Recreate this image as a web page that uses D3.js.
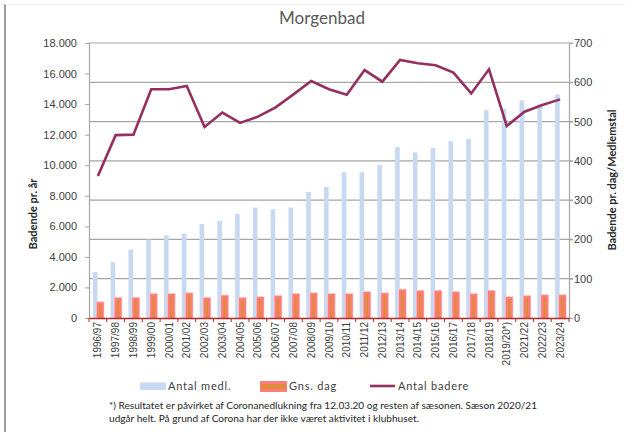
<!DOCTYPE html>
<html>
<head>
<meta charset="utf-8">
<script src="https://cdn.jsdelivr.net/npm/d3@7"></script>
<style>
  body { margin: 0; background: #fff; }
  svg { display: block; font-family: Lato, "Open Sans", sans-serif; }
</style>
</head>
<body>
<div id="chart"></div>
<script>
// saesoner
var seasons = ["1996/97","1997/98","1998/99","1999/00","2000/01","2001/02","2002/03","2003/04",
  "2004/05","2005/06","2006/07","2007/08","2008/09","2009/10","2010/11","2011/12","2012/13",
  "2013/14","2014/15","2015/16","2016/17","2017/18","2018/19","2019/20*)","2021/22","2022/23","2023/24"];

// Antal medl. (hoejre akse)
var members = [117,142,174,200,210,215,239,247,265,281,277,281,321,334,371,371,389,435,422,433,450,456,529,533,554,544,569];

// Gns. dag (hoejre akse)
var perDay = [41,52,52,62,62,64,52,58,52,54,57,62,64,62,62,67,64,73,70,70,67,62,70,54,57,59,59];

// Antal badere (venstre akse)
var bathers = [9300,11970,12000,14970,14970,15180,12500,13450,12770,13180,13790,14640,15510,14970,
  14620,16230,15470,16890,16670,16540,16060,14700,16280,12570,13500,13940,14310];

var leftTicks = [0,2000,4000,6000,8000,10000,12000,14000,16000,18000];
var rightTicks = [0,100,200,300,400,500,600,700];

var W = 625, H = 432;
var pLeft = 89, pRight = 569, pTop = 43, pBottom = 318;

var svg = d3.select("#chart").append("svg").attr("width", W).attr("height", H);

// ramme til venstre
svg.append("line").attr("x1", 5).attr("x2", 5).attr("y1", 4).attr("y2", H)
  .attr("stroke", "#7f7f7f").attr("stroke-width", 1.5);
svg.append("line").attr("x1", 5).attr("x2", W).attr("y1", 4.5).attr("y2", 4.5)
  .attr("stroke", "#f0f0f0").attr("stroke-width", 1);

var x = d3.scaleBand().domain(seasons).range([pLeft, pRight]).padding(0);
var yL = d3.scaleLinear().domain([0, 18000]).range([pBottom, pTop]);
var yR = d3.scaleLinear().domain([0, 700]).range([pBottom, pTop]);

var fmt = function(d) { return d3.format(",")(d).replace(/,/g, "."); };

// gitterlinjer
svg.append("g").selectAll("line").data(rightTicks.filter(function(d){ return d > 0; }))
  .enter().append("line")
  .attr("x1", pLeft).attr("x2", pRight + 4)
  .attr("y1", function(d){ return yR(d); }).attr("y2", function(d){ return yR(d); })
  .attr("stroke", "#a6a6a6").attr("stroke-width", 1.2);

// venstre akse
var gL = svg.append("g").attr("transform", "translate(" + pLeft + ",0)")
  .call(d3.axisLeft(yL).tickValues(leftTicks).tickFormat(fmt).tickSize(4).tickPadding(8));
gL.select(".domain").attr("stroke", "#a6a6a6").attr("stroke-width", 1.2);
gL.selectAll(".tick line").attr("stroke", "#a6a6a6");
gL.selectAll("text").attr("font-size", 11).attr("fill", "#404040");

// hoejre akse
var gR = svg.append("g").attr("transform", "translate(" + pRight + ",0)")
  .call(d3.axisRight(yR).tickValues(rightTicks).tickSize(4).tickPadding(1));
gR.select(".domain").attr("stroke", "#a6a6a6").attr("stroke-width", 1.2);
gR.selectAll(".tick line").attr("stroke", "#a6a6a6");
gR.selectAll("text").attr("font-size", 11).attr("fill", "#404040");

// Antal medl.
svg.append("g").selectAll("rect").data(members).enter().append("rect")
  .attr("x", function(d, i){ return x(seasons[i]) + x.bandwidth() / 2 - 5; })
  .attr("width", 4.6)
  .attr("y", function(d){ return yR(d); })
  .attr("height", function(d){ return yR(0) - yR(d); })
  .attr("fill", "#c6d9f1");

// Gns. dag
var gD = svg.append("g").selectAll("g").data(perDay).enter().append("g")
  .attr("transform", function(d, i){ return "translate(" + (x(seasons[i]) + x.bandwidth() / 2) + ",0)"; });
gD.append("rect")
  .attr("x", -1.8).attr("width", 8.3)
  .attr("y", function(d){ return yR(d) - 0.5; })
  .attr("height", function(d){ return yR(0) - yR(d) + 0.5; })
  .attr("fill", "#ffc4c4");
gD.append("rect")
  .attr("x", -1.1).attr("width", 7)
  .attr("y", function(d){ return yR(d) + 0.3; })
  .attr("height", function(d){ return yR(0) - yR(d) - 0.3; })
  .attr("fill", "#ff7c7c");
gD.append("rect")
  .attr("x", 1.1).attr("width", 2.6)
  .attr("y", function(d){ return yR(d) + 2.5; })
  .attr("height", function(d){ return Math.max(0, yR(0) - yR(d) - 2.5); })
  .attr("fill", "#e08a3c");

// Antal badere
var line = d3.line()
  .x(function(d, i){ return x(seasons[i]) + x.bandwidth() / 2; })
  .y(function(d){ return yL(d); });
svg.append("path").datum(bathers).attr("d", line)
  .attr("fill", "none").attr("stroke", "#93305f").attr("stroke-width", 2.6)
  .attr("stroke-linejoin", "miter");

// x-akse
var gX = svg.append("g").attr("transform", "translate(0," + pBottom + ")")
  .call(d3.axisBottom(x).tickSize(0).tickPadding(0));
gX.select(".domain").attr("stroke", "#b22a2a").attr("stroke-width", 1.3);
gX.selectAll("text")
  .attr("font-size", 10).attr("fill", "#404040")
  .attr("text-anchor", "end")
  .attr("transform", "rotate(-90)")
  .attr("x", -4).attr("y", 0).attr("dy", "0.35em");
svg.append("g").selectAll("line").data(seasons.concat([null])).enter().append("line")
  .attr("x1", function(d, i){ return pLeft + i * x.bandwidth(); })
  .attr("x2", function(d, i){ return pLeft + i * x.bandwidth(); })
  .attr("y1", pBottom).attr("y2", pBottom + 4)
  .attr("stroke", "#b22a2a").attr("stroke-width", 1);

// titel
svg.append("text").attr("x", 322).attr("y", 24).attr("text-anchor", "middle")
  .attr("font-size", 17).attr("fill", "#595959").text("Morgenbad");

// aksetitler
svg.append("text").attr("transform", "translate(37,214) rotate(-90)")
  .attr("text-anchor", "middle").attr("font-size", 11).attr("font-weight", "bold")
  .attr("fill", "#262626").text("Badende pr. år");
svg.append("text").attr("transform", "translate(616,180) rotate(-90)")
  .attr("text-anchor", "middle").attr("font-size", 11).attr("font-weight", "bold")
  .attr("fill", "#262626").text("Badende pr. dag/Medlemstal");

// legende
var lg = svg.append("g").attr("font-size", 11).attr("fill", "#404040");
lg.append("rect").attr("x", 140).attr("y", 382.5).attr("width", 26).attr("height", 7.5).attr("fill", "#c6d9f1");
lg.append("text").attr("x", 168).attr("y", 390).attr("letter-spacing", 0.8).text("Antal medl.");
lg.append("rect").attr("x", 260).attr("y", 381).attr("width", 27).attr("height", 11).attr("fill", "#ff7c7c");
lg.append("rect").attr("x", 261).attr("y", 384).attr("width", 25).attr("height", 5).attr("fill", "#e08a3c");
lg.append("text").attr("x", 289).attr("y", 390).attr("letter-spacing", 0.8).text("Gns. dag");
lg.append("line").attr("x1", 370).attr("x2", 395).attr("y1", 386).attr("y2", 386)
  .attr("stroke", "#93305f").attr("stroke-width", 2.6);
lg.append("text").attr("x", 398).attr("y", 390).attr("letter-spacing", 0.8).text("Antal badere");

// fodnote
var fn = svg.append("g").attr("font-size", 10).attr("fill", "#262626");
fn.append("text").attr("x", 109).attr("y", 409).attr("textLength", 428).attr("lengthAdjust", "spacingAndGlyphs")
  .text("*) Resultatet er påvirket af Coronanedlukning fra  12.03.20 og resten af sæsonen. Sæson 2020/21");
fn.append("text").attr("x", 109).attr("y", 422).attr("textLength", 310).attr("lengthAdjust", "spacingAndGlyphs")
  .text("udgår helt. På grund af Corona har der ikke været aktivitet i klubhuset.");
</script>
</body>
</html>
